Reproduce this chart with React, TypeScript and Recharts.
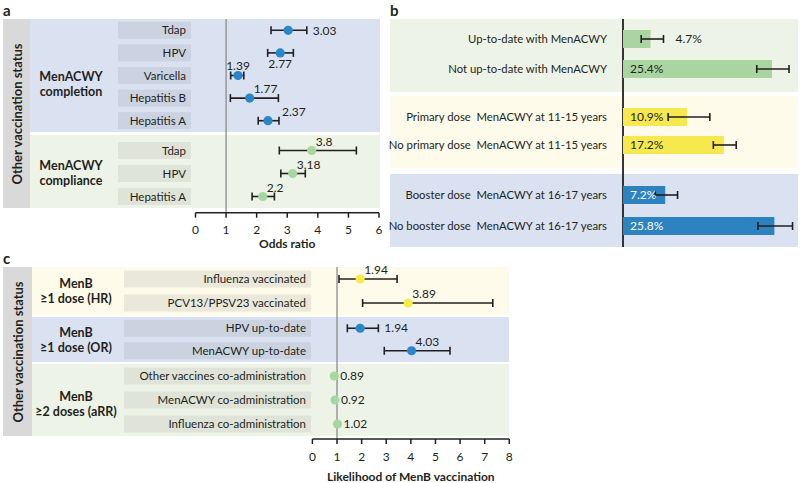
import React from 'react';
import { ComposedChart, Scatter, XAxis, YAxis, ReferenceLine, ErrorBar, Bar, LabelList } from 'recharts';

const FONT = 'Lato, "Noto Sans", sans-serif';
const INK = '#231f20';

// ---------- Panel a ----------
const aCompletionVaccines = ['Tdap', 'HPV', 'Varicella', 'Hepatitis B', 'Hepatitis A'];
const aCompletionOR = [3.03, 2.77, 1.39, 1.77, 2.37];
const aCompletionLow = [2.47, 2.36, 1.15, 1.14, 2.05];
const aCompletionHigh = [3.64, 3.2, 1.58, 2.71, 2.73];
const aCompletionPlace = ['right', 'below', 'above', 'aboveRight', 'aboveEnd'];

const aComplianceVaccines = ['Tdap', 'HPV', 'Hepatitis A'];
const aComplianceOR = [3.8, 3.18, 2.2];
const aComplianceLow = [2.74, 2.79, 1.85];
const aComplianceHigh = [5.26, 3.59, 2.58];
const aCompliancePlace = ['aboveRight', 'aboveRight', 'aboveRight'];
const aTicks = [0, 1, 2, 3, 4, 5, 6];

// ---------- Panel b ----------
const bUpToDateGroups = ['Up-to-date with MenACWY', 'Not up-to-date with MenACWY'];
const bUpToDatePct = [4.7, 25.4];
const bUpToDateLow = [3.1, 22.8];
const bUpToDateHigh = [6.9, 28.3];
const bUpToDatePlace = ['outside', 'inside'];

const bPrimaryGroups = ['Primary dose  MenACWY at 11-15 years', 'No primary dose  MenACWY at 11-15 years'];
const bPrimaryPct = [10.9, 17.2];
const bPrimaryLow = [7.7, 15.4];
const bPrimaryHigh = [14.8, 19.3];
const bPrimaryPlace = ['inside', 'inside'];

const bBoosterGroups = ['Booster dose  MenACWY at 16-17 years', 'No booster dose  MenACWY at 16-17 years'];
const bBoosterPct = [7.2, 25.8];
const bBoosterLow = [5.5, 23.0];
const bBoosterHigh = [9.3, 28.9];
const bBoosterPlace = ['inside', 'inside'];

// ---------- Panel c ----------
const cHRVaccines = ['Influenza vaccinated', 'PCV13/PPSV23 vaccinated'];
const cHRValue = [1.94, 3.89];
const cHRLow = [1.08, 2.04];
const cHRHigh = [3.44, 7.33];
const cHRPlace = ['aboveRight', 'aboveRight'];

const cORVaccines = ['HPV up-to-date', 'MenACWY up-to-date'];
const cORValue = [1.94, 4.03];
const cORLow = [1.42, 2.92];
const cORHigh = [2.68, 5.59];
const cORPlace = ['right', 'aboveRight'];

const cRRVaccines = ['Other vaccines co-administration', 'MenACWY co-administration', 'Influenza co-administration'];
const cRRValue = [0.89, 0.92, 1.02];
const cRRPlace = ['right', 'right', 'right'];
const cTicks = [0, 1, 2, 3, 4, 5, 6, 7, 8];

// ---------- helpers ----------
type FRow = { name: string; value: number; err?: number[]; lx: number; place: string; label: string };

function forestRows(names: string[], vals: number[], lows: number[] | null, highs: number[] | null, places: string[]): FRow[] {
  return names.map((name, i) => {
    const hasCI = lows != null && highs != null;
    const place = places[i];
    const lx = (place === 'right' || place === 'aboveEnd') && hasCI ? (highs as number[])[i] : vals[i];
    return {
      name,
      value: vals[i],
      err: hasCI ? [vals[i] - (lows as number[])[i], (highs as number[])[i] - vals[i]] : undefined,
      lx,
      place,
      label: String(vals[i]),
    };
  });
}

type BRow = { name: string; pct: number; err: number[]; hi: number; place: string };
function barRows(names: string[], pcts: number[], lows: number[], highs: number[], places: string[]): BRow[] {
  return names.map((name, i) => ({ name, pct: pcts[i], err: [pcts[i] - lows[i], highs[i] - pcts[i]], hi: highs[i], place: places[i] }));
}

const makeDot = (color: string) => (p: any) => <circle cx={p.cx} cy={p.cy} r={4.6} fill={color} />;

const labelShape = (p: any) => {
  const payload = p.payload ?? p;
  const { cx, cy } = p;
  let x = cx;
  let y = cy;
  let anchor: 'start' | 'middle' | 'end' = 'middle';
  switch (payload.place) {
    case 'right': x = cx + 6; anchor = 'start'; break;
    case 'above': y = cy - 10; break;
    case 'below': y = cy + 11; break;
    case 'aboveRight': x = cx + 4; y = cy - 9; anchor = 'start'; break;
    case 'aboveEnd': x = cx + 3; y = cy - 9; anchor = 'start'; break;
  }
  return (
    <text x={x} y={y} dy="0.35em" textAnchor={anchor} fontSize={12} fill={INK} fontFamily={FONT}>
      {payload.label}
    </text>
  );
};

type FGProps = {
  rows: FRow[]; left: number; top: number; width: number; height: number;
  plotLeft: number; plotRight: number; domain: number[]; mTop?: number; mBottom?: number;
  boxLeft: number; boxRight: number; boxFill: string; dot: string; showErr?: boolean;
};

function ForestGroup({ rows, left, top, width, height, plotLeft, plotRight, domain, mTop = 0, mBottom = 0, boxLeft, boxRight, boxFill, dot, showErr = true }: FGProps) {
  const yw = plotLeft - left;
  const tick = (p: any) => (
    <g>
      <rect x={boxLeft - left} y={p.y - 8.5} width={boxRight - boxLeft} height={17} fill={boxFill} />
      <text x={boxRight - left - 5} y={p.y} dy="0.36em" textAnchor="end" fontSize={11.5} fill={INK} fontFamily={FONT}>
        {p.payload.value}
      </text>
    </g>
  );
  return (
    <div style={{ position: 'absolute', left, top }}>
      <ComposedChart width={width} height={height} data={rows} layout="vertical"
        margin={{ top: mTop, bottom: mBottom, left: 0, right: left + width - plotRight }}>
        <XAxis type="number" domain={domain} hide allowDataOverflow />
        <YAxis type="category" scale="band" dataKey="name" width={yw} axisLine={false} tickLine={false} tick={tick} interval={0} />
        <Scatter dataKey="value" fill={dot} isAnimationActive={false} shape={makeDot(dot)}>
          {showErr ? <ErrorBar dataKey="err" direction="x" width={4} stroke={INK} strokeWidth={1.6} /> : null}
        </Scatter>
        <Scatter dataKey="lx" isAnimationActive={false} shape={labelShape} />
      </ComposedChart>
    </div>
  );
}

type AFProps = {
  rows: any[]; left: number; top: number; width: number; plotLeft: number; plotRight: number;
  plotHeight: number; domain: number[]; ticks?: number[]; refX: number; refColor: string; refWidth: number;
  axisHeight: number; title?: string; hideAxis?: boolean;
};

function AxisFrame({ rows, left, top, width, plotLeft, plotRight, plotHeight, domain, ticks, refX, refColor, refWidth, axisHeight, title, hideAxis }: AFProps) {
  return (
    <div style={{ position: 'absolute', left, top }}>
      <ComposedChart width={width} height={plotHeight + (hideAxis ? 0 : axisHeight)} data={rows} layout="vertical"
        margin={{ top: 0, bottom: 0, left: plotLeft - left, right: left + width - plotRight }}>
        <XAxis type="number" domain={domain} ticks={ticks} hide={hideAxis} allowDataOverflow
          height={axisHeight} tickSize={5} tickMargin={8}
          axisLine={{ stroke: INK, strokeWidth: 1.5 }} tickLine={{ stroke: INK, strokeWidth: 1.5 }}
          tick={{ fontSize: 12, fill: INK, fontFamily: FONT }}
          label={title ? { value: title, position: 'insideBottom', offset: 2, style: { fontSize: 12, fontWeight: 700, fill: INK, fontFamily: FONT } } : undefined} />
        <YAxis type="category" dataKey="name" hide />
        <Scatter dataKey="value" isAnimationActive={false} shape={() => <g />} />
        <ReferenceLine x={refX} stroke={refColor} strokeWidth={refWidth} />
      </ComposedChart>
    </div>
  );
}

type BGProps = {
  rows: BRow[]; left: number; top: number; width: number; height: number; plotLeft: number; plotRight: number;
  mTop: number; mBottom: number; color: string; textColor: string; labelRight: number;
};

function BarGroup({ rows, left, top, width, height, plotLeft, plotRight, mTop, mBottom, color, textColor, labelRight }: BGProps) {
  const yw = plotLeft - left;
  const tick = (p: any) => (
    <text x={labelRight - left} y={p.y} dy="0.36em" textAnchor="end" fontSize={11.3} fill={INK} fontFamily={FONT} style={{ whiteSpace: 'pre' }}>
      {p.payload.value}
    </text>
  );
  const barLabel = (p: any) => {
    const vb = p.viewBox ?? p;
    const x = vb.x ?? p.x;
    const y = vb.y ?? p.y;
    const w = vb.width ?? p.width;
    const h = vb.height ?? p.height;
    const row = rows[p.index];
    if (!row) return null;
    const ppu = w / row.pct;
    const outside = row.place === 'outside';
    const tx = outside ? x + row.hi * ppu + 12 : x + 7;
    return (
      <text x={tx} y={y + h / 2} dy="0.36em" textAnchor="start" fontSize={12} fill={outside ? INK : textColor} fontFamily={FONT}>
        {`${row.pct}%`}
      </text>
    );
  };
  return (
    <div style={{ position: 'absolute', left, top }}>
      <ComposedChart width={width} height={height} data={rows} layout="vertical"
        margin={{ top: mTop, bottom: mBottom, left: 0, right: left + width - plotRight }}>
        <XAxis type="number" domain={[0, 30]} hide allowDataOverflow />
        <YAxis type="category" dataKey="name" width={yw} axisLine={false} tickLine={false} tick={tick} interval={0} />
        <Bar dataKey="pct" fill={color} barSize={18} isAnimationActive={false}>
          <ErrorBar dataKey="err" direction="x" width={4} stroke={INK} strokeWidth={1.6} />
          <LabelList dataKey="pct" content={barLabel} />
        </Bar>
      </ComposedChart>
    </div>
  );
}

const Box = ({ l, t, w, h, c }: { l: number; t: number; w: number; h: number; c: string }) => (
  <div style={{ position: 'absolute', left: l, top: t, width: w, height: h, background: c }} />
);

const BoldText = ({ x, y, lines, size = 12.5 }: { x: number; y: number; lines: string[]; size?: number }) => (
  <div style={{ position: 'absolute', left: x, top: y, transform: 'translate(-50%, -50%)', textAlign: 'center', fontFamily: FONT, fontWeight: 700, fontSize: size, lineHeight: '15px', color: INK, whiteSpace: 'nowrap' }}>
    {lines.map((s, i) => <div key={i}>{s}</div>)}
  </div>
);

const SideText = ({ x, y, text }: { x: number; y: number; text: string }) => (
  <div style={{ position: 'absolute', left: x, top: y, transform: 'translate(-50%, -50%) rotate(-90deg)', fontFamily: FONT, fontWeight: 700, fontSize: 13, color: INK, whiteSpace: 'nowrap' }}>
    {text}
  </div>
);

const PanelLetter = ({ x, y, t }: { x: number; y: number; t: string }) => (
  <div style={{ position: 'absolute', left: x, top: y, fontFamily: FONT, fontWeight: 700, fontSize: 15, color: INK, lineHeight: '15px' }}>{t}</div>
);

const BLUE_BG = '#dae2f2';
const GREEN_BG = '#edf4e7';
const YELLOW_BG = '#fefbea';
const SIDE_GRAY = '#d9d9d9';
const BLUE_BOX = '#cbd3e1';
const GREEN_BOX = '#dfe3d8';
const YELLOW_BOX = '#eae7db';
const BLUE_DOT = '#2a86c6';
const GREEN_DOT = '#a7d7a0';
const YELLOW_DOT = '#f7ea4a';

export default function App() {
  const aG1 = forestRows(aCompletionVaccines, aCompletionOR, aCompletionLow, aCompletionHigh, aCompletionPlace);
  const aG2 = forestRows(aComplianceVaccines, aComplianceOR, aComplianceLow, aComplianceHigh, aCompliancePlace);
  const cG1 = forestRows(cHRVaccines, cHRValue, cHRLow, cHRHigh, cHRPlace);
  const cG2 = forestRows(cORVaccines, cORValue, cORLow, cORHigh, cORPlace);
  const cG3 = forestRows(cRRVaccines, cRRValue, null, null, cRRPlace);
  const bG1 = barRows(bUpToDateGroups, bUpToDatePct, bUpToDateLow, bUpToDateHigh, bUpToDatePlace);
  const bG2 = barRows(bPrimaryGroups, bPrimaryPct, bPrimaryLow, bPrimaryHigh, bPrimaryPlace);
  const bG3 = barRows(bBoosterGroups, bBoosterPct, bBoosterLow, bBoosterHigh, bBoosterPlace);

  const aPL = 195.5, aPR = 379;
  const cPL = 312.4, cPR = 509.3;
  const bPL = 623, bPR = 799;

  return (
    <div style={{ position: 'absolute', left: 0, top: 0, width: 800, height: 483, background: '#fff', overflow: 'hidden', fontFamily: FONT }}>
      <style>{`.recharts-surface{overflow:visible}.recharts-wrapper{overflow:visible}`}</style>
      {/* ---------- Panel a ---------- */}
      <PanelLetter x={3} y={3} t="a" />
      <Box l={3} t={19} w={27} h={189} c={SIDE_GRAY} />
      <SideText x={16.5} y={113.5} text="Other vaccination status" />
      <Box l={30} t={19} w={350} h={113} c={BLUE_BG} />
      <Box l={30} t={135} w={350} h={73} c={GREEN_BG} />
      <BoldText x={71} y={83.5} lines={['MenACWY', 'completion']} />
      <BoldText x={71} y={173} lines={['MenACWY', 'compliance']} />
      <AxisFrame rows={[...aG1, ...aG2]} left={110} top={19} width={290} plotLeft={aPL} plotRight={aPR}
        plotHeight={193.7} domain={[0, 6]} ticks={aTicks} refX={1} refColor="#8a8a8a" refWidth={1.3}
        axisHeight={37} title="Odds ratio" />
      <ForestGroup rows={aG1} left={110} top={19} width={290} height={113} plotLeft={aPL} plotRight={aPR}
        domain={[0, 6]} boxLeft={118} boxRight={191} boxFill={BLUE_BOX} dot={BLUE_DOT} />
      <ForestGroup rows={aG2} left={110} top={135} width={290} height={73} mTop={4} plotLeft={aPL} plotRight={aPR}
        domain={[0, 6]} boxLeft={118} boxRight={191} boxFill={GREEN_BOX} dot={GREEN_DOT} />

      {/* ---------- Panel b ---------- */}
      <PanelLetter x={390} y={3} t="b" />
      <Box l={390} t={19} w={408} h={73} c={GREEN_BG} />
      <Box l={390} t={96} w={408} h={72} c={YELLOW_BG} />
      <Box l={390} t={174} w={408} h={73} c={BLUE_BG} />
      <AxisFrame rows={[...bG1, ...bG2, ...bG3].map((r) => ({ name: r.name, value: r.pct }))} left={380} top={19} width={420}
        plotLeft={bPL} plotRight={bPR} plotHeight={228} domain={[0, 30]} refX={0} refColor={INK} refWidth={1.8}
        axisHeight={0} hideAxis />
      <BarGroup rows={bG1} left={380} top={19} width={420} height={73} mTop={5} mBottom={8} plotLeft={bPL} plotRight={bPR}
        color="#a9d6a0" textColor={INK} labelRight={607} />
      <BarGroup rows={bG2} left={380} top={96} width={420} height={72} mTop={7} mBottom={9} plotLeft={bPL} plotRight={bPR}
        color="#f6e84e" textColor={INK} labelRight={607} />
      <BarGroup rows={bG3} left={380} top={174} width={420} height={73} mTop={5} mBottom={6} plotLeft={bPL} plotRight={bPR}
        color="#2c83c0" textColor="#ffffff" labelRight={607} />

      {/* ---------- Panel c ---------- */}
      <PanelLetter x={3} y={251} t="c" />
      <Box l={3} t={267} w={29} h={169} c={SIDE_GRAY} />
      <SideText x={17.5} y={351.5} text="Other vaccination status" />
      <Box l={32} t={267} w={477} h={48} c={YELLOW_BG} />
      <Box l={32} t={317} w={477} h={45} c={BLUE_BG} />
      <Box l={32} t={364} w={477} h={72} c={GREEN_BG} />
      <BoldText x={76} y={290.5} lines={['MenB', '≥1 dose (HR)']} />
      <BoldText x={76} y={340} lines={['MenB', '≥1 dose (OR)']} />
      <BoldText x={76} y={404} lines={['MenB', '≥2 doses (aRR)']} />
      <AxisFrame rows={[...cG1, ...cG2, ...cG3]} left={110} top={267} width={420} plotLeft={cPL} plotRight={cPR}
        plotHeight={172} domain={[0, 8]} ticks={cTicks} refX={1} refColor="#8a8a8a" refWidth={1.3}
        axisHeight={44} title="Likelihood of MenB vaccination" />
      <ForestGroup rows={cG1} left={110} top={267} width={420} height={48} plotLeft={cPL} plotRight={cPR}
        domain={[0, 8]} boxLeft={124} boxRight={311} boxFill={YELLOW_BOX} dot={YELLOW_DOT} />
      <ForestGroup rows={cG2} left={110} top={317} width={420} height={45} plotLeft={cPL} plotRight={cPR}
        domain={[0, 8]} boxLeft={124} boxRight={311} boxFill={BLUE_BOX} dot={BLUE_DOT} />
      <ForestGroup rows={cG3} left={110} top={364} width={420} height={72} plotLeft={cPL} plotRight={cPR}
        domain={[0, 8]} boxLeft={124} boxRight={311} boxFill={GREEN_BOX} dot={GREEN_DOT} showErr={false} />
    </div>
  );
}
